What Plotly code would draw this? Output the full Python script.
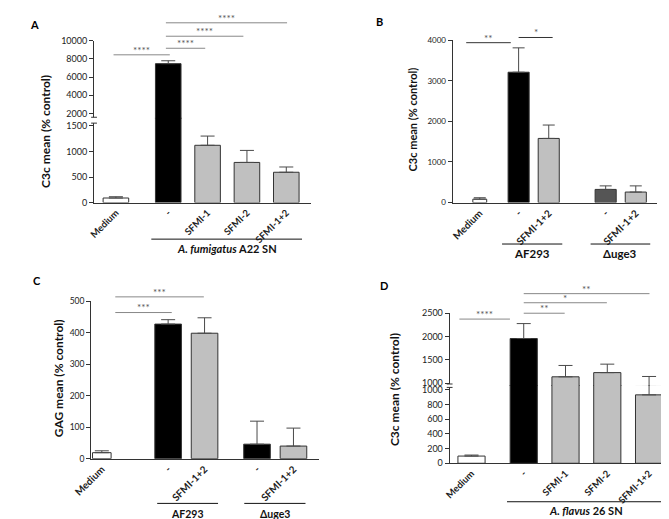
import plotly.graph_objects as go

W, H = 669, 519
FONT = "Lato, 'Open Sans', Arial, sans-serif"

# ---------------- data ----------------
a_cats = ["Medium", "-", "SFMI-1", "SFMI-2", "SFMI-1+2"]
a_mean = [90, 7480, 1120, 785, 593]
a_sem = [25, 320, 180, 235, 103]
a_groups = [0, 1, 1, 1, 1]
a_group_labels = ["<b><i>A. fumigatus</i> A22 SN</b>"]

b_cats = ["Medium", "-", "SFMI-1+2", "-", "SFMI-1+2"]
b_mean = [85, 3210, 1580, 325, 260]
b_sem = [35, 600, 330, 87, 152]
b_groups = [0, 1, 1, 2, 2]
b_group_labels = ["<b>AF293</b>", "<b>\u0394uge3</b>"]

c_cats = ["Medium", "-", "SFMI-1+2", "-", "SFMI-1+2"]
c_mean = [19, 427, 398, 46, 40]
c_sem = [6, 14, 49, 73, 57]
c_groups = [0, 1, 1, 2, 2]
c_group_labels = ["<b>AF293</b>", "<b>\u0394uge3</b>"]

d_cats = ["Medium", "-", "SFMI-1", "SFMI-2", "SFMI-1+2"]
d_mean = [98, 1958, 1139, 1229, 932]
d_sem = [14, 320, 243, 181, 214]
d_groups = [0, 1, 1, 1, 1]
d_group_labels = ["<b><i>A. flavus</i> 26 SN</b>"]

a_sig = [(0, 1, "****"), (1, 2, "****"), (1, 3, "****"), (1, 4, "****")]
b_sig = [(0, 1, "**"), (1, 2, "*")]
c_sig = [(0, 1, "***"), (0, 2, "***")]
d_sig = [(0, 1, "****"), (1, 2, "**"), (1, 3, "*"), (1, 4, "**")]

# ---------------- styles ----------------
WHITE, BLACK, GREY, DGREY = "#ffffff", "#000000", "#c0c0c0", "#555555"
a_fill = [WHITE, BLACK, GREY, GREY, GREY]
b_fill = [WHITE, BLACK, GREY, DGREY, GREY]
c_fill = [WHITE, BLACK, GREY, BLACK, GREY]
d_fill = [WHITE, BLACK, GREY, GREY, GREY]


def fx(px):
    return px / W


def fy(py):
    return 1 - py / H


def positions(groups, gaps):
    pos, off, prev = [], 0.0, groups[0]
    for k, g in enumerate(groups):
        if g != prev:
            off += gaps[g - 1]
            prev = g
        pos.append(k + off)
    return pos


fig = go.Figure()
layout = dict(
    width=W, height=H, margin=dict(l=0, r=0, t=0, b=0), autosize=False,
    paper_bgcolor="white", plot_bgcolor="rgba(0,0,0,0)", showlegend=False,
    barmode="overlay", font=dict(family=FONT, color="#222"),
)
shapes, annots = [], []

AX = dict(showline=True, linecolor="#333", linewidth=1, showgrid=False,
          zeroline=False, fixedrange=True)


def yax(domain_px, rng, tickvals, anchor, fsize):
    return dict(AX, domain=[fy(domain_px[1]), fy(domain_px[0])], range=rng,
                tickvals=tickvals, ticktext=[str(v) for v in tickvals],
                ticks="outside", ticklen=4, tickcolor="#333",
                tickfont=dict(size=fsize, color="#222"), anchor=anchor)


def panel(n, cats, mean, sem, groups, gaps, widths, fill, xdom_px, first_px, unit,
          yaxes, sig, sig_spec, sig_color, grp_labels, grp_spec, ytitle, ytitle_px,
          letter, letter_px, capw, fs):
    xid = "x" if n == 1 else f"x{n}"
    xkey = "xaxis" if n == 1 else f"xaxis{n}"
    pos = positions(groups, gaps)
    xr = [(xdom_px[0] - first_px) / unit, (xdom_px[1] - first_px) / unit]
    first_y = yaxes[0][0]
    layout[xkey] = dict(AX, domain=[fx(xdom_px[0]), fx(xdom_px[1])], range=xr,
                        anchor="y" if first_y == 1 else f"y{first_y}",
                        tickvals=pos, ticktext=cats, ticks="", tickangle=-45,
                        tickfont=dict(size=fs["xt"], color="#222", weight="bold"))
    for (yn, dom, rng, tv) in yaxes:
        ykey = "yaxis" if yn == 1 else f"yaxis{yn}"
        yid = "y" if yn == 1 else f"y{yn}"
        layout[ykey] = yax(dom, rng, tv, xid, fs["yt"])
        fig.add_trace(go.Bar(
            x=pos, y=mean, width=widths, xaxis=xid, yaxis=yid,
            marker=dict(color=fill, line=dict(color="#333", width=1)),
            error_y=dict(type="data", symmetric=False, array=sem,
                         arrayminus=[0] * len(sem), color="#4a4a4a",
                         thickness=1, width=capw),
            hoverinfo="skip"))
    # significance bars
    for (i, j, txt), (py, oi, oj) in zip(sig, sig_spec):
        x0, x1 = pos[i] + oi, pos[j] + oj
        shapes.append(dict(type="line", xref=xid, yref="paper", x0=x0, x1=x1,
                           y0=fy(py), y1=fy(py), line=dict(color=sig_color, width=1)))
        annots.append(dict(text=txt, xref=xid, yref="paper", x=(x0 + x1) / 2,
                           y=fy(py + 3), yanchor="bottom", xanchor="center",
                           showarrow=False, font=dict(size=fs["star"], color="#555")))
    # group lines
    gids = sorted(set(g for g in groups if g > 0))
    for gi, lab, (py, ly, anc, el, er) in zip(gids, grp_labels, grp_spec):
        idx = [k for k, g in enumerate(groups) if g == gi]
        x0, x1 = pos[idx[0]] - el, pos[idx[-1]] + er
        shapes.append(dict(type="line", xref=xid, yref="paper", x0=x0, x1=x1,
                           y0=fy(py), y1=fy(py), line=dict(color="#111", width=1)))
        annots.append(dict(text=lab, xref=xid, yref="paper", x=(x0 + x1) / 2,
                           y=fy(ly), yanchor=anc, xanchor="center",
                           showarrow=False, font=dict(size=fs["grp"], color="#111")))
    annots.append(dict(text=f"<b>{ytitle}</b>", xref="paper", yref="paper",
                       x=fx(ytitle_px[0]), y=fy(ytitle_px[1]), textangle=-90,
                       showarrow=False, xanchor="center", yanchor="middle",
                       font=dict(size=fs["title"], color="#111")))
    annots.append(dict(text=f"<b>{letter}</b>", xref="paper", yref="paper",
                       x=fx(letter_px[0]), y=fy(letter_px[1]), showarrow=False,
                       xanchor="center", yanchor="middle",
                       font=dict(size=11, color="#000")))


def axis_break(ax_px, top_py, bot_py):
    shapes.append(dict(type="rect", xref="paper", yref="paper", layer="above",
                       x0=fx(ax_px - 3), x1=fx(ax_px + 3), y0=fy(bot_py), y1=fy(top_py),
                       fillcolor="white", line=dict(width=0)))
    for py in (top_py, bot_py):
        shapes.append(dict(type="line", xref="paper", yref="paper", layer="above",
                           x0=fx(ax_px - 3), x1=fx(ax_px + 3), y0=fy(py), y1=fy(py),
                           line=dict(color="#333", width=1)))


# Panel A (broken axis; lower segment overlaps upper by 1 px to avoid a seam)
panel(1, a_cats, a_mean, a_sem, a_groups, [0.33], [0.65] * 5, a_fill,
      (69, 292), 91.5, 40.5,
      [(1, (106, 192.7), [0, 1658], [0, 500, 1000, 1500]),
       (2, (27.3, 107), [1430, 10000], [2000, 4000, 6000, 8000, 10000])],
      a_sig, [(41.7, -0.06, 0.04), (35, -0.06, -0.06), (22.7, -0.06, -0.09), (9, -0.06, 0.02)],
      "#888", a_group_labels, [(230, 240, "middle", 0.43, 0.40)],
      "C3c mean (% control)", (19, 120), "A", (8, 11), 7,
      dict(xt=9.5, yt=9, title=12, grp=11, star=10))
axis_break(69, 105.5, 111.5)

# Panel B
panel(2, b_cats, b_mean, b_sem, b_groups, [0.29, 0.89],
      [0.46, 0.70, 0.70, 0.70, 0.70], b_fill, (438, 648), 466, 31,
      [(3, (26.7, 192.7), [0, 4000], [0, 1000, 2000, 3000, 4000])],
      b_sig, [(29.3, -0.45, -0.26), (24, 0.0, 0.13)], "#333",
      b_group_labels, [(235, 245, "middle", 0.55, 0.45), (235, 245, "middle", 0.50, 0.48)],
      "C3c mean (% control)", (397, 108), "B", (363, 8), 6,
      dict(xt=10, yt=8, title=11, grp=11.5, star=10))

# Panel C
panel(3, c_cats, c_mean, c_sem, c_groups, [0.82, 0.44],
      [0.51, 0.73, 0.73, 0.73, 0.73], c_fill, (66, 301), 77, 37.5,
      [(4, (293.3, 454.3), [0, 500], [0, 100, 200, 300, 400, 500])],
      c_sig, [(305, 0.37, 0.10), (289, 0.37, -0.02)], "#888",
      c_group_labels, [(500, 518.5, "bottom", 0.30, 0.37), (500, 518.5, "bottom", 0.35, 0.33)],
      "GAG mean (% control)", (32, 372), "C", (10, 272), 7,
      dict(xt=10, yt=8.5, title=12, grp=10.5, star=10))

# Panel D (broken axis; lower segment overlaps upper by 1 px)
panel(4, d_cats, d_mean, d_sem, d_groups, [0.25], [0.65] * 5, d_fill,
      (435, 666.7), 457.5, 43,
      [(5, (379, 459), [0, 1066.7], [0, 200, 400, 600, 800, 1000]),
       (6, (305.7, 380), [943.5, 2500], [1000, 1500, 2000, 2500])],
      d_sig, [(311.7, -0.29, -0.33), (305.7, 0.0, -0.02), (295, 0.0, -0.01), (285.7, 0.0, 0.01)],
      "#888", d_group_labels, [(498.3, 507, "middle", 0.40, 0.38)],
      "C3c mean (% control)", (379, 384), "D", (367, 277), 7,
      dict(xt=9.5, yt=9, title=12, grp=11, star=10))
axis_break(435, 378, 381.5)

layout["shapes"] = shapes
layout["annotations"] = annots
fig.update_layout(**layout)
fig.write_html("out.html")
